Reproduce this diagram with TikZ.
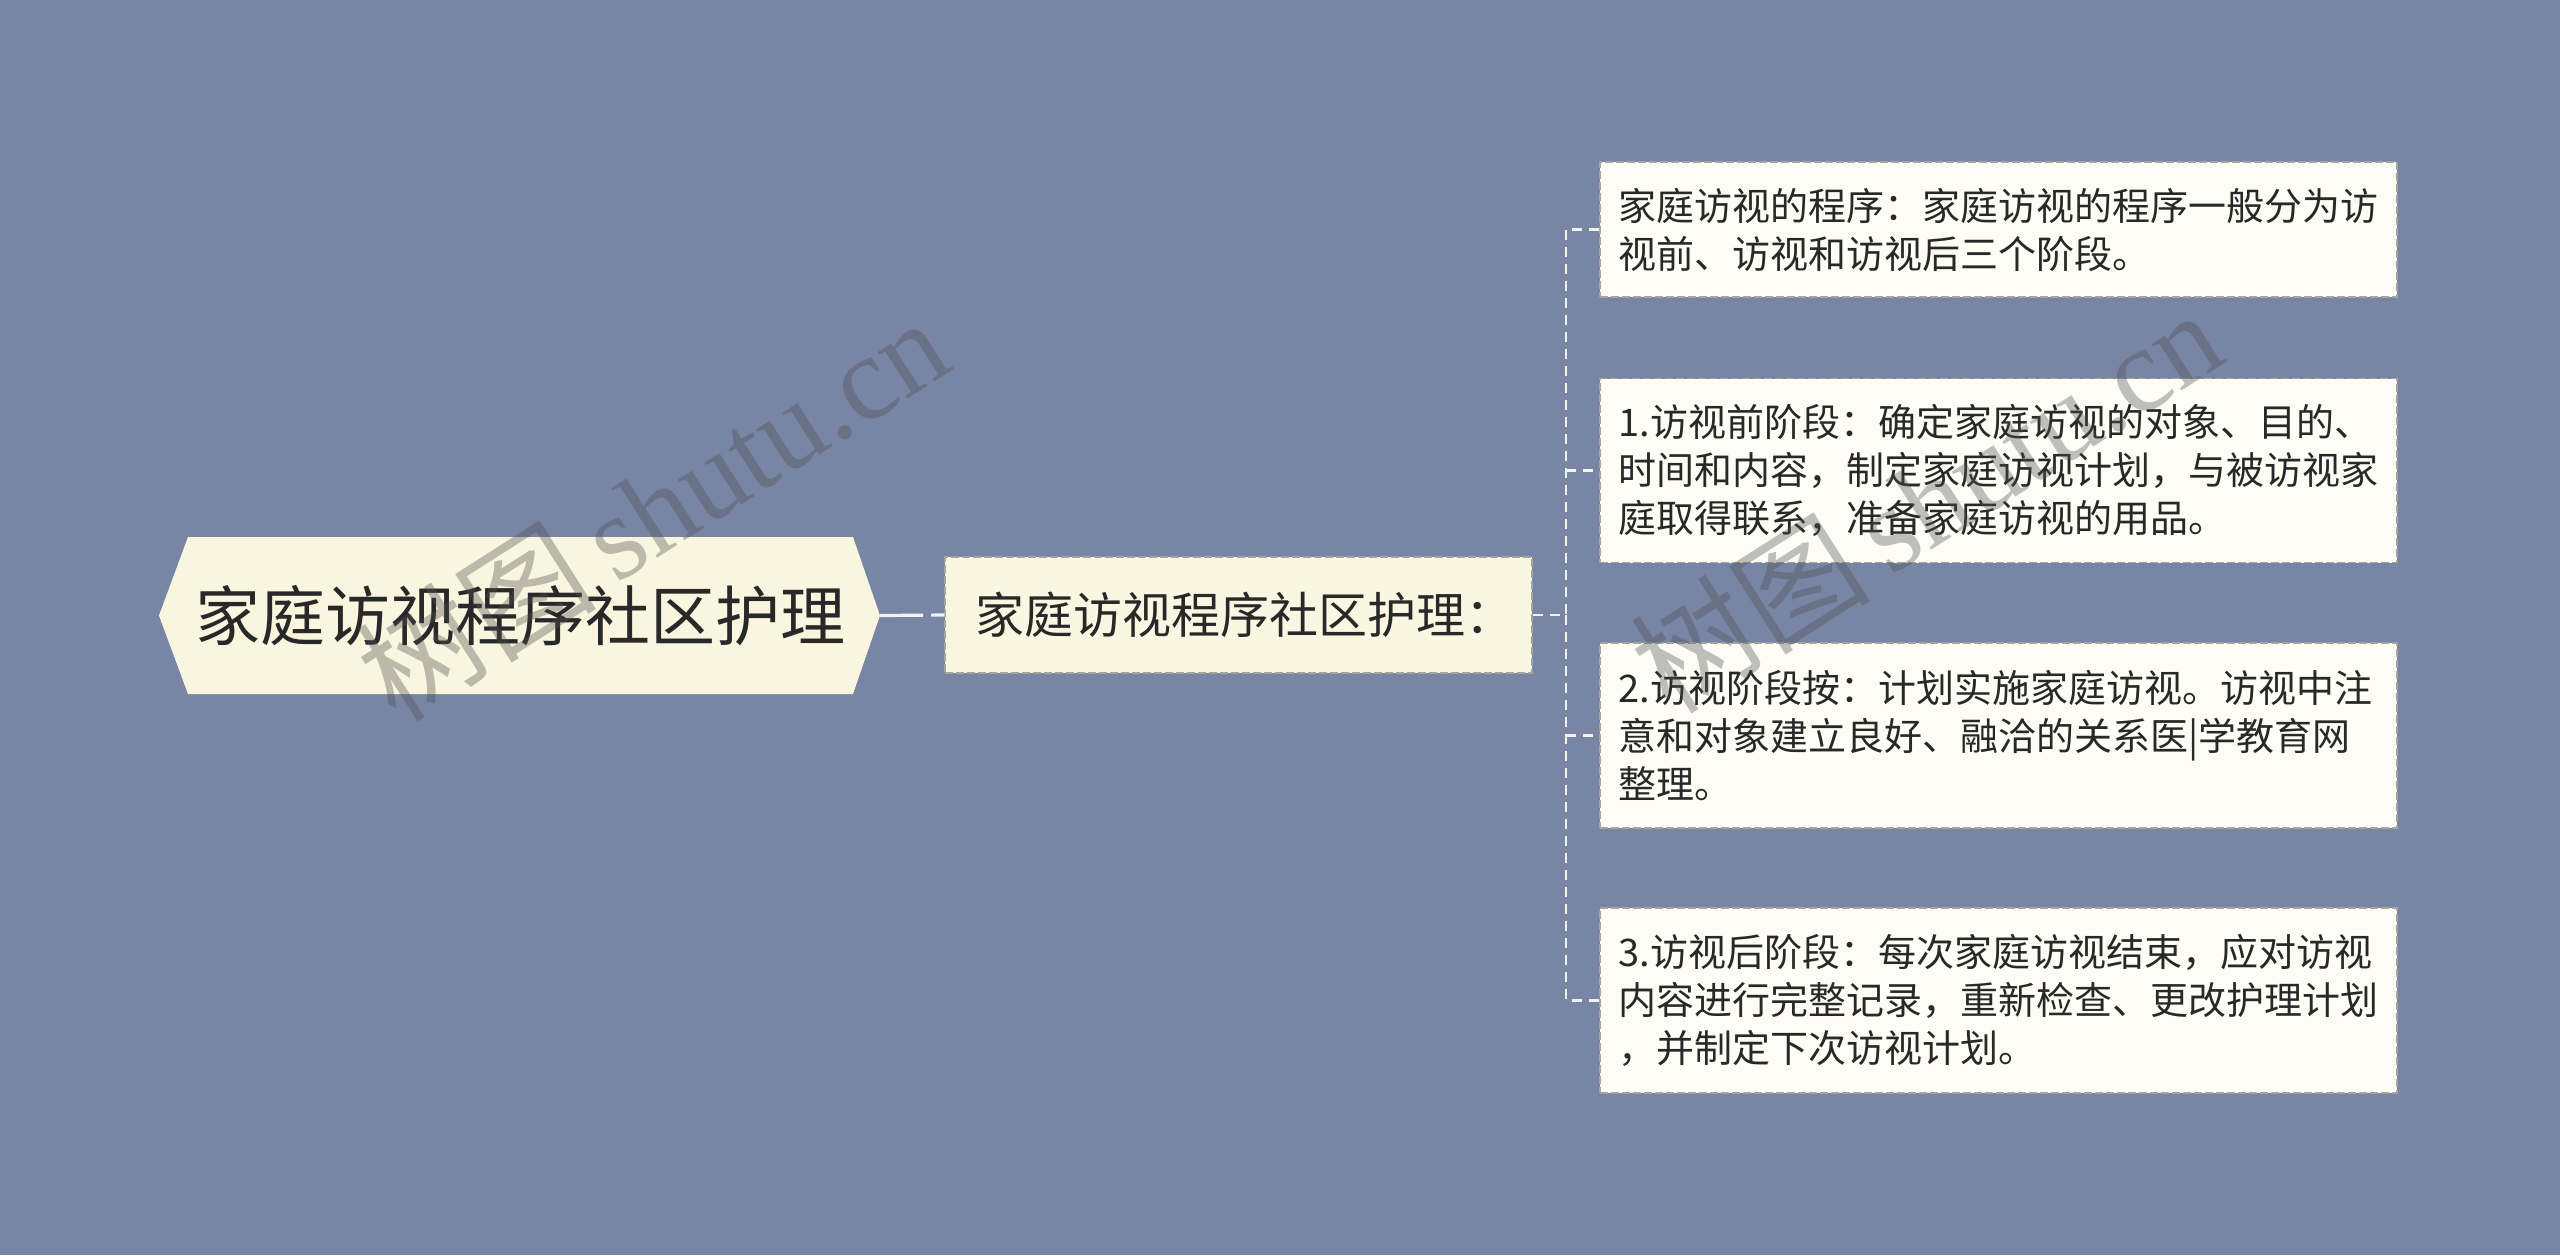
\documentclass[tikz,border=0pt]{standalone}
\usepackage{fontspec}
\setmainfont{Noto Sans CJK SC}
\newfontfamily\wmcjk{Noto Sans CJK SC}
\newfontfamily\wmlat{Liberation Serif}
\usetikzlibrary{backgrounds}
\definecolor{bgblue}{RGB}{120,133,165}
\definecolor{rootfill}{RGB}{249,245,222}
\definecolor{midfill}{RGB}{249,246,226}
\definecolor{leaffill}{RGB}{253,253,246}
\definecolor{edgecol}{RGB}{242,242,238}
\definecolor{bordcol}{RGB}{165,165,160}
\definecolor{txtcol}{RGB}{40,40,40}
\definecolor{wmcol}{RGB}{80,80,80}
\begin{document}
\begin{tikzpicture}[x=0.5pt,y=-0.5pt,
  conn/.style={draw=edgecol, line width=1.1pt, dash pattern=on 5pt off 3.5pt},
  rootbox/.style={rectangle, inner sep=0pt, text=txtcol, font=\fontsize{32.5pt}{36pt}\selectfont},
  midbox/.style={rectangle, draw=bordcol, line width=0.75pt, dash pattern=on 4pt off 1.5pt,
     fill=midfill, text=txtcol, align=left, text width=263.5pt, inner xsep=15pt,
     minimum height=58pt, font=\fontsize{24.5pt}{30pt}\selectfont},
  leafbox/.style={rectangle, draw=bordcol, line width=0.75pt, dash pattern=on 4pt off 1.5pt,
     fill=leaffill, text=txtcol, align=left, text width=380pt, inner xsep=9.25pt,
     font=\fontsize{19pt}{24pt}\selectfont},
  wmark/.style={rotate=32.5, text=wmcol, text opacity=0.36, inner sep=0pt,
     font=\fontsize{60pt}{60pt}\selectfont}
 ]
\useasboundingbox (0,0) rectangle (2560,1255);

% root shape corners
\coordinate (rootL) at (159,615.5);
\coordinate (rootTL) at (188,537);
\coordinate (rootTR) at (853,537);
\coordinate (rootR) at (880,615.5);
\coordinate (rootBR) at (853,694);
\coordinate (rootBL) at (188,694);

% nodes
\node[rootbox] (root) at (520,615.5) {家庭访视程序社区护理};

\node[midbox] (mid) at (1238.5,615) {家庭访视程序社区护理：};

\node[leafbox, minimum height=67.5pt] (c1) at (1998.5,229.5)
  {家庭访视的程序：家庭访视的程序一般分为访\\视前、访视和访视后三个阶段。};
\node[leafbox, minimum height=92pt] (c2) at (1998.5,470.5)
  {1.访视前阶段：确定家庭访视的对象、目的、\\时间和内容，制定家庭访视计划，与被访视家\\庭取得联系，准备家庭访视的用品。};
\node[leafbox, minimum height=92.5pt] (c3) at (1998.5,735.5)
  {2.访视阶段按：计划实施家庭访视。访视中注\\意和对象建立良好、融洽的关系医|学教育网\\整理。};
\node[leafbox, minimum height=92.5pt] (c4) at (1998.5,1000.5)
  {3.访视后阶段：每次家庭访视结束，应对访视\\内容进行完整记录，重新检查、更改护理计划\\，并制定下次访视计划。};

\coordinate (j) at (1566,615);

% connectors
\draw[conn, line width=1.6pt, dash pattern=on 21.5pt off 4pt] (rootR) -- (mid.west);
\draw[conn] (mid.east) -- (j);
\draw[conn] (c1.west) -| (j);
\draw[conn] (j) |- (c4.west);
\draw[conn] (c2.west -| j) -- (c2.west);
\draw[conn] (c3.west -| j) -- (c3.west);

% background and root shape
\begin{scope}[on background layer]
  \fill[bgblue] (0,0) rectangle (2560,1255);
  \fill[rootfill] (rootTL) -- (rootTR) -- (rootR) -- (rootBR) -- (rootBL) -- (rootL) -- cycle;
\end{scope}

% watermarks
\node[wmark] (wm1) at (652,508) {\wmcjk 树图\,\wmlat shutu.cn};
\node[wmark] (wm2) at (1926,500) {\wmcjk 树图\,\wmlat shutu.cn};
\end{tikzpicture}
\end{document}
